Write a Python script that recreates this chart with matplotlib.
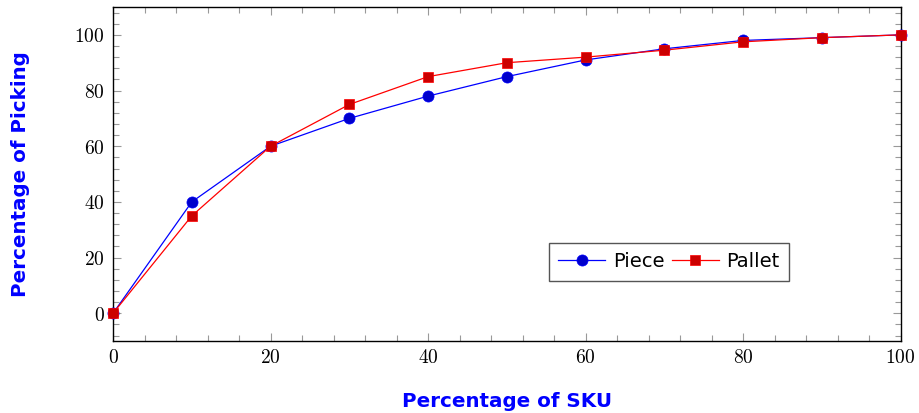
import numpy as np
import matplotlib.pyplot as plt
from matplotlib.ticker import MultipleLocator, FuncFormatter

plt.rcParams['mathtext.fontset'] = 'cm'

sku = [0, 10, 20, 30, 40, 50, 60, 70, 80, 90, 100]
piece = [0, 40, 60, 70, 78, 85, 91, 95, 98, 99, 100]
pallet = [0, 35, 60, 75, 85, 90, 92, 94.5, 97.5, 99, 100]

fig = plt.figure(figsize=(9.19, 4.13), dpi=100)
ax = fig.add_axes([0.123, 0.174, 0.857, 0.809])

ax.plot(sku, piece, color='#0000FF', lw=0.9, marker='o', markersize=8,
        markerfacecolor='#0000CC', markeredgecolor='#0000FF', markeredgewidth=0.5,
        label='Piece', clip_on=False, zorder=3)
ax.plot(sku, pallet, color='#FF0000', lw=0.9, marker='s', markersize=7.6,
        markerfacecolor='#CC0000', markeredgecolor='#FF0000', markeredgewidth=0.5,
        label='Pallet', clip_on=False, zorder=4)

ax.set_xlim(0, 100)
ax.set_ylim(-10, 110)
ax.xaxis.set_major_locator(MultipleLocator(20))
ax.yaxis.set_major_locator(MultipleLocator(20))
ax.xaxis.set_minor_locator(MultipleLocator(4))
ax.yaxis.set_minor_locator(MultipleLocator(4))
fmt = FuncFormatter(lambda v, p: r'$%d$' % v)
ax.xaxis.set_major_formatter(fmt)
ax.yaxis.set_major_formatter(fmt)
ax.tick_params(which='both', direction='in', top=True, right=True, labelsize=14)
ax.tick_params(which='major', length=6, width=0.8, color='#999999')
ax.tick_params(which='minor', length=4, width=0.8, color='#999999')
ax.tick_params(axis='x', pad=5)
ax.tick_params(axis='y', pad=6)
for s in ax.spines.values():
    s.set_linewidth(1.0)

ax.set_xlabel('Percentage of SKU', fontsize=14.3, fontweight='bold', color='#0000FF', labelpad=18)
ax.set_ylabel('Percentage of Picking', fontsize=14.3, fontweight='bold', color='#0000FF', labelpad=32)

leg = ax.legend(ncol=2, loc='lower left', bbox_to_anchor=(0.553, 0.18), fontsize=14,
                fancybox=False, edgecolor='#555555', framealpha=1, handlelength=2.4,
                columnspacing=0.4, handletextpad=0.4, borderpad=0.5, borderaxespad=0)
leg.get_frame().set_linewidth(1.0)

fig.savefig('out.png', dpi=100)
